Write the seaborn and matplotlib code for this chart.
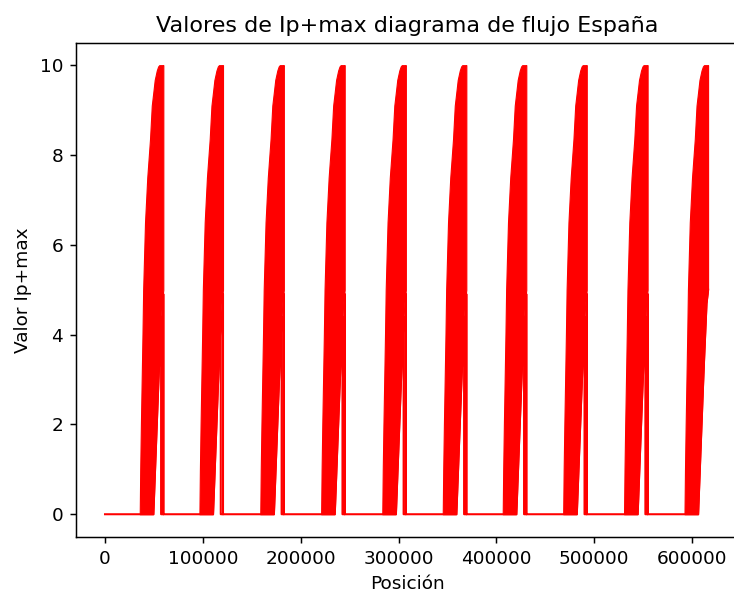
import matplotlib
matplotlib.use("Agg")
import matplotlib.pyplot as plt
import numpy as np
import pandas as pd
import seaborn as sns

# ---- data ----
cycle_starts = [35500, 96500, 158700, 220900, 283400, 345200, 406500, 468300, 530500, 592300]
# envelope of the dense oscillation inside one cycle (offset from cycle start)
band_dx = [0, 500, 1200, 2000, 2800, 3500, 5400, 7700, 10500, 12300, 13900,
           15300, 17400, 18800, 19900, 20500, 22500, 23600, 24100]
band_hi = [0, 1, 2, 3, 4, 5, 6.5, 7.5, 8.35, 9.1, 9.4,
           9.67, 9.88, 9.97, 10, 10, 10, 10, 10]
band_lo = [0, 0, 0, 0, 0, 0, 0, 0, 0, 0, 0,
           0.8, 2.0, 2.8, 3.4, 3.7, 4.7, 4.9, 5.0]
# thin drop lines at the end of each cycle
drop_dx = [21800, 24100]
drop_top = [4.4, 4.9]

title = "Valores de Ip+max diagrama de flujo España"
xlabel = "Posición"
ylabel = "Valor Ip+max"

# ---- build the trace ----
xs, ys = [0.0], [0.0]
n = len(cycle_starts)
for i, s in enumerate(cycle_starts):
    xs.append(s); ys.append(0.0)
    last = (i == n - 1)
    for dx, lo in zip(band_dx, band_lo):
        if dx >= 13900 and (last or dx < drop_dx[0]):
            xs.append(s + dx); ys.append(lo)
    if not last:
        xs += [s + drop_dx[0], s + drop_dx[0], s + drop_dx[1], s + drop_dx[1], s + drop_dx[1]]
        ys += [drop_top[0], 0.0, 0.0, drop_top[1], 0.0]

trace = pd.DataFrame({"pos": xs, "val": ys})

DPI = 133.7
fig = plt.figure(figsize=(734 / DPI, 592 / DPI), dpi=DPI)
ax = fig.add_axes([76 / 734, (592 - 536.7) / 592, (739 - 76) / 734, 494 / 592])

for s in cycle_starts:
    bx = [s + d for d in band_dx]
    ax.fill_between(bx, band_lo, band_hi, color="red", linewidth=0.6, edgecolor="red")

sns.lineplot(data=trace, x="pos", y="val", ax=ax, color="red",
             estimator=None, sort=False, linewidth=1.1)

ax.set_xlim(-29650, 648000)
ax.set_ylim(-0.5, 10.5)
ax.set_title(title)
ax.set_xlabel(xlabel)
ax.set_ylabel(ylabel)
ax.ticklabel_format(axis="x", style="plain", useOffset=False)

fig.savefig("out.png", dpi=DPI)
